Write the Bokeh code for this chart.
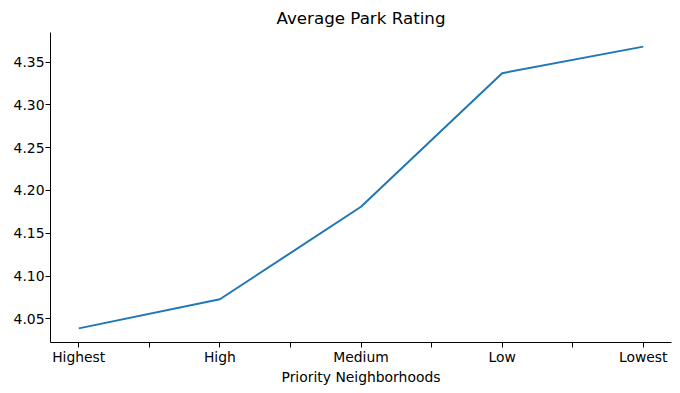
from bokeh.plotting import figure
from bokeh.models import FixedTicker, Range1d
from bokeh.embed import file_html
from bokeh.resources import INLINE

categories = ["Highest", "High", "Medium", "Low", "Lowest"]
ratings = [4.039, 4.073, 4.181, 4.337, 4.368]
y_ticks = [4.05, 4.10, 4.15, 4.20, 4.25, 4.30, 4.35]

xs = list(range(len(categories)))

p = figure(width=672, height=387, output_backend="svg", toolbar_location=None,
           x_range=Range1d(-0.2, 4.2), y_range=Range1d(4.0225, 4.3845),
           min_border_left=50, min_border_right=1, min_border_top=24, min_border_bottom=40)

p.line(xs, ratings, line_color="#1f77b4", line_width=2)

p.title.text = "Average Park Rating"
p.title.align = "center"
p.title.text_font = "DejaVu Sans"
p.title.text_font_size = "16.7px"
p.title.text_font_style = "normal"
p.title.text_color = "black"

p.outline_line_color = None
p.xgrid.visible = False
p.ygrid.visible = False

x_tick_vals = [i * 0.5 for i in range(9)]
p.xaxis.ticker = FixedTicker(ticks=x_tick_vals)
overrides = {}
for t in x_tick_vals:
    if t == int(t):
        overrides[t] = categories[int(t)]
    else:
        overrides[t] = ""
p.xaxis.major_label_overrides = overrides
p.xaxis.axis_label = "Priority Neighborhoods"

p.yaxis.ticker = FixedTicker(ticks=y_ticks)
p.yaxis.major_label_overrides = {t: f"{t:.2f}" for t in y_ticks}

for ax in (p.xaxis[0], p.yaxis[0]):
    ax.axis_line_color = "black"
    ax.axis_line_width = 1
    ax.major_tick_line_color = "black"
    ax.major_tick_in = 0
    ax.major_tick_out = 5
    ax.minor_tick_line_color = None
    ax.major_label_text_font = "DejaVu Sans"
    ax.major_label_text_font_size = "13.9px"
    ax.major_label_text_color = "black"
    ax.axis_label_text_font = "DejaVu Sans"
    ax.axis_label_text_font_size = "13.9px"
    ax.axis_label_text_font_style = "normal"
    ax.axis_label_text_color = "black"
    ax.major_label_standoff = 1
    ax.axis_label_standoff = 1

open("out.html", "w").write(file_html(p, INLINE))
